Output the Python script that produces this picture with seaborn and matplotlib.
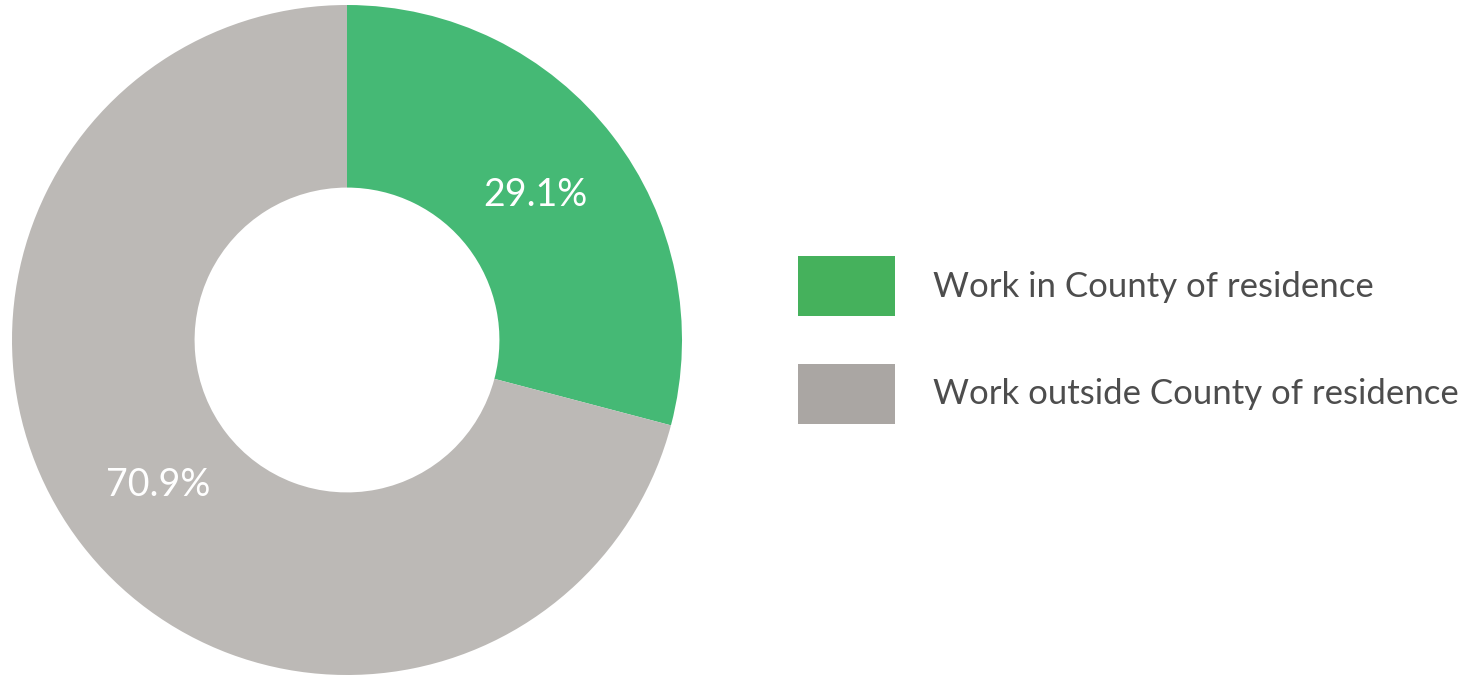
import matplotlib
matplotlib.use("Agg")
import matplotlib.pyplot as plt
from matplotlib.patches import Patch
import seaborn as sns

# data
labels = ['Work in County of residence', 'Work outside County of residence']
shares = [29.1, 70.9]
wedge_colors = ['#45b975', '#bcb9b6']
legend_colors = ['#45b15c', '#aaa6a3']

sns.set_theme(style='white')
plt.rcParams['font.family'] = ['Lato', 'DejaVu Sans']

fig = plt.figure(figsize=(14.78, 6.75), dpi=100)
ax = fig.add_axes([12 / 1478, 0.0, 670 / 1478, 670 / 675])

wedges, texts, autotexts = ax.pie(
    shares,
    colors=wedge_colors,
    startangle=90,
    counterclock=False,
    radius=1.0,
    wedgeprops=dict(width=0.545, linewidth=0),
    autopct='%.1f%%',
    pctdistance=0.71,
    textprops=dict(color='white', fontsize=27),
)
ax.set_xlim(-1, 1)
ax.set_ylim(-1, 1)
ax.axis('off')

handles = [Patch(facecolor=c, edgecolor='none') for c in legend_colors]
fig.legend(
    handles, labels,
    loc='center left',
    bbox_to_anchor=(798 / 1478, 1 - 340 / 675),
    frameon=False,
    handlelength=2.8,
    handleheight=2.28,
    handletextpad=1.1,
    labelspacing=1.36,
    borderpad=0,
    borderaxespad=0,
    labelcolor='#4d4d4d',
    prop=dict(family=['Lato', 'DejaVu Sans'], size=25),
)

fig.savefig('out.png', dpi=100)
